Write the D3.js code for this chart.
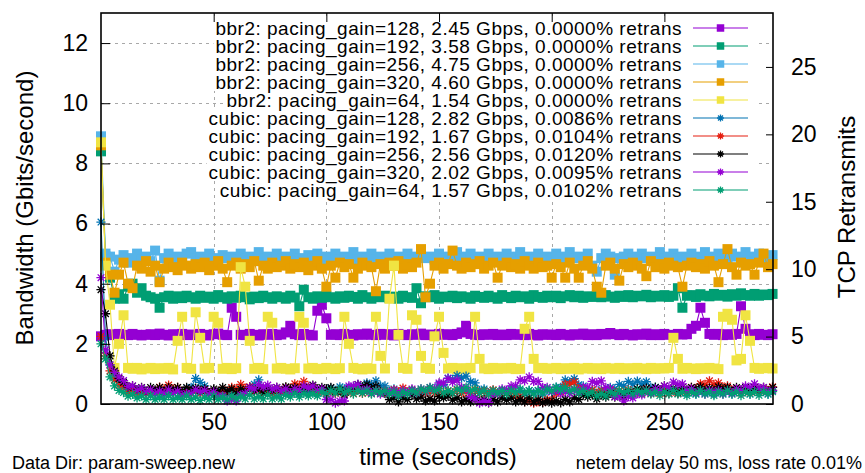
<!DOCTYPE html>
<html>
<head>
<meta charset="utf-8">
<script src="https://cdn.jsdelivr.net/npm/d3@7"></script>
<style>
  html, body { margin: 0; padding: 0; background: #fff; }
  svg { display: block; font-family: "Liberation Sans", Arial, Helvetica, sans-serif; }
</style>
</head>
<body>
<svg id="chart" width="865" height="473"></svg>
<script>
// Sample times (seconds), one sample every 2 s
const seconds = d3.range(0, 300, 2);

// Throughput samples in Gbit/s, one per entry of `seconds`
const bbr2_128 = [
  2.25, 2.3, 2.32, 2.29, 2.33, 2.3, 2.29, 2.33, 2.3, 2.28,
  2.3, 2.32, 2.29, 2.34, 2.3, 2.28, 2.32, 2.3, 2.33, 2.29,
  2.31, 2.29, 2.33, 2.3, 2.28, 2.32, 2.34, 2.3, 2.29, 3.2,
  2.9, 2.3, 2.29, 2.33, 2.3, 2.28, 2.32, 2.3, 2.33, 2.29,
  2.31, 2.38, 2.6, 2.32, 2.29, 2.33, 2.3, 2.28, 3.1, 3.3,
  2.85, 2.3, 2.32, 2.29, 2.33, 2.3, 2.28, 2.32, 2.3, 2.34,
  2.3, 2.29, 2.33, 2.3, 2.32, 2.28, 2.33, 2.3, 2.29, 2.32,
  2.3, 2.34, 2.29, 2.31, 2.28, 2.33, 2.3, 2.32, 2.29, 2.33,
  2.38, 2.6, 2.33, 2.3, 2.29, 2.32, 2.3, 2.33, 2.29, 2.31,
  2.29, 2.33, 2.3, 2.32, 2.29, 2.33, 2.3, 2.28, 2.32, 2.3,
  2.31, 2.29, 2.33, 2.3, 2.28, 2.32, 2.3, 2.34, 2.29, 2.32,
  2.29, 2.33, 2.31, 2.36, 2.32, 2.29, 2.33, 2.3, 2.28, 2.32,
  2.3, 2.34, 2.29, 2.32, 2.29, 2.33, 2.3, 2.29, 2.33, 2.31,
  2.32, 2.5, 2.6, 3.2, 2.7, 2.33, 2.3, 2.33, 2.29, 2.32,
  2.3, 2.33, 3.25, 2.5, 2.32, 2.29, 2.33, 2.3, 2.29, 2.32
];
const bbr2_192 = [
  8.4, 4.9, 4.2, 3.5, 3.65, 3.5, 3.9, 4.0, 3.7, 3.85,
  3.6, 3.55, 3.5, 3.2, 3.55, 3.6, 3.5, 3.58, 3.52, 3.6,
  3.55, 3.5, 3.6, 3.53, 3.57, 3.5, 3.62, 3.55, 3.5, 3.58,
  3.53, 3.6, 3.55, 3.48, 3.57, 3.52, 3.6, 3.55, 3.5, 3.58,
  3.55, 3.5, 3.6, 3.54, 3.25, 3.8, 3.55, 3.5, 3.58, 3.53,
  3.6, 3.55, 3.5, 3.58, 3.53, 3.6, 3.56, 3.5, 3.62, 3.55,
  3.5, 3.58, 3.55, 3.6, 3.52, 3.57, 3.5, 3.6, 3.55, 3.53,
  3.85, 3.35, 3.58, 3.55, 3.62, 3.5, 3.57, 3.55, 3.6, 3.52,
  3.58, 3.55, 3.5, 3.6, 3.56, 3.53, 3.6, 3.55, 3.5, 3.62,
  3.56, 3.52, 3.6, 3.55, 3.58, 3.5, 3.62, 3.56, 3.53, 3.6,
  3.55, 3.6, 3.52, 3.58, 3.62, 3.55, 3.6, 3.53, 3.58, 3.56,
  3.6, 3.55, 3.62, 3.57, 3.53, 3.6, 3.56, 3.62, 3.55, 3.6,
  3.58, 3.63, 3.55, 3.6, 3.57, 3.62, 3.56, 3.6, 3.85, 3.2,
  3.6, 3.62, 3.56, 3.65, 3.6, 3.58, 3.66, 3.6, 3.63, 3.57,
  3.65, 3.6, 3.68, 3.62, 3.6, 3.66, 3.6, 3.64, 3.62, 3.66
];
const bbr2_256 = [
  8.9, 5.0, 4.9, 4.4, 4.8, 4.95, 4.7, 4.85, 5.0, 4.8,
  4.9, 4.75, 5.1, 4.1, 4.85, 5.0, 4.8, 4.9, 4.75, 5.0,
  5.05, 4.85, 4.9, 4.8, 5.0, 4.85, 4.75, 4.95, 4.85, 4.9,
  4.8, 5.0, 4.85, 4.9, 4.75, 5.05, 4.85, 4.9, 4.8, 5.0,
  4.85, 4.9, 4.8, 5.0, 4.85, 4.75, 4.95, 4.85, 5.0, 4.8,
  4.9, 4.85, 5.0, 4.8, 4.9, 4.85, 5.05, 4.8, 4.9, 4.85,
  5.0, 4.8, 4.9, 4.85, 5.0, 4.75, 4.9, 4.85, 5.0, 4.8,
  4.9, 5.05, 4.85, 4.9, 4.8, 5.0, 4.85, 4.9, 4.85, 5.05,
  4.85, 4.9, 5.0, 4.8, 4.9, 4.85, 5.0, 4.85, 4.9, 4.8,
  5.0, 4.85, 4.9, 5.05, 4.85, 4.9, 4.8, 5.0, 4.85, 4.9,
  4.85, 5.0, 4.9, 4.8, 5.05, 4.85, 4.9, 4.85, 5.0, 4.6,
  4.4, 4.85, 5.0, 4.9, 4.3, 4.85, 4.9, 5.0, 4.85, 4.9,
  5.0, 4.85, 4.9, 4.8, 5.05, 4.85, 4.9, 5.0, 4.85, 4.9,
  4.85, 5.0, 4.9, 4.85, 5.05, 4.9, 4.85, 5.0, 4.9, 4.85,
  5.0, 4.9, 4.85, 5.05, 4.9, 4.85, 5.0, 4.9, 4.85, 4.95
];
const bbr2_320 = [
  8.6, 4.7, 4.3, 3.7, 4.3, 4.7, 4.0, 3.85, 4.6, 4.5,
  4.75, 4.4, 4.6, 4.05, 4.5, 4.7, 4.55, 4.45, 4.7, 4.6,
  4.5, 4.65, 4.55, 4.7, 4.45, 4.6, 4.75, 4.5, 4.05, 4.6,
  4.7, 4.5, 4.65, 4.55, 4.75, 4.1, 4.6, 4.5, 4.7, 4.55,
  4.6, 4.75, 4.5, 4.65, 4.55, 4.7, 4.45, 4.6, 4.75, 4.5,
  3.9, 4.6, 4.2, 4.7, 4.55, 4.65, 4.2, 4.5, 4.7, 4.6,
  4.55, 3.75, 4.65, 4.5, 4.7, 4.6, 4.75, 4.5, 4.65, 4.55,
  4.7, 5.15, 3.55, 4.0, 4.6, 4.7, 4.5, 4.65, 5.1, 4.6,
  4.5, 4.7, 4.55, 4.65, 4.75, 4.5, 4.6, 4.7, 4.2, 4.6,
  4.7, 4.55, 4.65, 4.5, 4.75, 4.6, 4.5, 4.7, 4.55, 4.6,
  4.2, 4.65, 4.55, 4.2, 4.7, 4.5, 4.2, 4.6, 4.75, 4.5,
  3.9, 3.7, 4.6, 4.7, 4.5, 4.1, 4.65, 4.55, 4.7, 4.6,
  4.5, 4.25, 4.75, 4.55, 4.65, 4.5, 4.7, 4.6, 4.55, 3.9,
  4.6, 4.7, 4.55, 4.65, 4.5, 4.75, 4.6, 4.05, 4.65, 5.15,
  4.55, 4.3, 4.7, 4.6, 4.65, 4.3, 4.7, 5.0, 4.55, 4.65
];
const bbr2_64 = [
  8.7, 4.6, 3.3, 1.2, 2.0, 2.95, 1.2, 1.17, 1.2, 1.15,
  1.18, 1.2, 1.16, 1.19, 1.17, 1.2, 1.15, 2.1, 2.9, 1.2,
  1.17, 3.05, 2.2, 1.18, 1.2, 2.9, 2.7, 1.17, 1.2, 1.16,
  1.19, 4.55, 3.9, 2.1, 1.17, 1.2, 1.16, 2.9, 2.7, 1.18,
  1.2, 1.17, 1.15, 1.19, 2.9, 2.7, 1.18, 1.2, 1.16, 1.17,
  1.2, 1.18, 1.16, 1.19, 2.9, 2.0, 1.2, 1.17, 1.15, 1.19,
  1.17, 2.9, 1.6, 1.18, 3.5, 4.6, 2.3, 1.2, 1.17, 2.95,
  2.8, 1.6, 1.2, 1.17, 2.25, 2.9, 1.7, 1.18, 1.2, 1.16,
  1.19, 1.17, 1.2, 2.9, 1.5, 1.18, 1.16, 1.2, 1.17, 1.19,
  1.18, 1.2, 1.16, 1.17, 2.5, 2.9, 1.5, 1.19, 1.2, 1.17,
  1.18, 1.2, 1.16, 1.19, 1.17, 1.2, 1.15, 1.18, 1.2, 1.17,
  1.19, 1.16, 1.2, 1.18, 1.17, 1.2, 1.16, 1.19, 1.17, 1.2,
  1.18, 1.16, 1.2, 1.17, 1.19, 1.18, 1.2, 2.2, 1.5, 1.17,
  1.2, 1.18, 1.16, 1.19, 1.17, 1.2, 1.18, 1.16, 2.9, 3.0,
  2.8, 1.45, 1.5, 2.95, 2.1, 1.2, 1.17, 1.19, 1.2, 1.18
];
const cubic_128 = [
  6.05, 2.2, 1.3, 0.95, 0.75, 0.62, 0.48, 0.52, 0.4, 0.47,
  0.36, 0.46, 0.33, 0.44, 0.32, 0.45, 0.38, 0.43, 0.35, 0.5,
  0.55, 0.85, 0.72, 0.6, 0.37, 0.44, 0.35, 0.42, 0.34, 0.43,
  0.36, 0.47, 0.34, 0.56, 0.66, 0.8, 0.5, 0.47, 0.35, 0.43,
  0.35, 0.42, 0.37, 0.45, 0.33, 0.45, 0.37, 0.43, 0.35, 0.47,
  0.4, 0.53, 0.45, 0.57, 0.5, 0.55, 0.43, 0.6, 0.55, 0.7,
  0.65, 0.77, 0.6, 0.6, 0.43, 0.5, 0.37, 0.45, 0.37, 0.45,
  0.33, 0.45, 0.37, 0.5, 0.45, 0.66, 0.64, 0.86, 0.82, 0.95,
  0.86, 0.93, 0.74, 0.7, 0.45, 0.5, 0.37, 0.45, 0.33, 0.45,
  0.37, 0.5, 0.37, 0.45, 0.33, 0.45, 0.37, 0.45, 0.33, 0.47,
  0.4, 0.56, 0.55, 0.8, 0.74, 0.84, 0.64, 0.6, 0.4, 0.47,
  0.35, 0.47, 0.4, 0.55, 0.5, 0.65, 0.6, 0.75, 0.66, 0.76,
  0.66, 0.74, 0.55, 0.56, 0.4, 0.47, 0.35, 0.47, 0.35, 0.43,
  0.35, 0.47, 0.33, 0.45, 0.37, 0.45, 0.33, 0.45, 0.37, 0.45,
  0.33, 0.45, 0.37, 0.45, 0.33, 0.45, 0.37, 0.45, 0.33, 0.45
];
const cubic_192 = [
  2.25, 1.6, 1.1, 0.8, 0.62, 0.54, 0.4, 0.47, 0.35, 0.43,
  0.35, 0.47, 0.4, 0.56, 0.5, 0.63, 0.5, 0.55, 0.4, 0.47,
  0.35, 0.43, 0.35, 0.47, 0.35, 0.43, 0.35, 0.47, 0.4, 0.55,
  0.5, 0.65, 0.53, 0.57, 0.4, 0.47, 0.35, 0.43, 0.35, 0.47,
  0.4, 0.55, 0.5, 0.67, 0.62, 0.75, 0.57, 0.55, 0.4, 0.47,
  0.35, 0.43, 0.35, 0.47, 0.35, 0.43, 0.35, 0.47, 0.35, 0.43,
  0.35, 0.47, 0.35, 0.43, 0.35, 0.47, 0.4, 0.53, 0.4, 0.47,
  0.35, 0.43, 0.35, 0.47, 0.35, 0.43, 0.3, 0.43, 0.35, 0.47,
  0.35, 0.43, 0.35, 0.47, 0.35, 0.43, 0.35, 0.47, 0.35, 0.43,
  0.35, 0.4, 0.25, 0.25, 0.08, 0.12, 0.03, 0.08, 0.05, 0.14,
  0.12, 0.35, 0.4, 0.65, 0.65, 0.73, 0.5, 0.5, 0.35, 0.47,
  0.35, 0.43, 0.35, 0.47, 0.35, 0.43, 0.35, 0.47, 0.35, 0.43,
  0.35, 0.47, 0.35, 0.43, 0.35, 0.47, 0.35, 0.43, 0.35, 0.47,
  0.4, 0.55, 0.5, 0.67, 0.65, 0.77, 0.65, 0.7, 0.55, 0.6,
  0.45, 0.5, 0.37, 0.45, 0.4, 0.55, 0.43, 0.5, 0.45, 0.57
];
const cubic_256 = [
  3.8, 3.0, 1.6, 1.1, 0.85, 0.72, 0.56, 0.6, 0.47, 0.55,
  0.43, 0.55, 0.47, 0.55, 0.43, 0.55, 0.47, 0.55, 0.43, 0.55,
  0.45, 0.53, 0.45, 0.5, 0.37, 0.5, 0.43, 0.55, 0.43, 0.5,
  0.37, 0.5, 0.43, 0.55, 0.43, 0.5, 0.37, 0.5, 0.43, 0.55,
  0.45, 0.57, 0.5, 0.55, 0.43, 0.55, 0.5, 0.63, 0.5, 0.55,
  0.5, 0.55, 0.4, 0.45, 0.3, 0.5, 0.5, 0.65, 0.57, 0.65,
  0.53, 0.6, 0.4, 0.35, 0.15, 0.2, 0.07, 0.2, 0.15, 0.3,
  0.17, 0.23, 0.1, 0.17, 0.1, 0.25, 0.2, 0.27, 0.13, 0.2,
  0.07, 0.15, 0.07, 0.2, 0.07, 0.15, 0.04, 0.15, 0.07, 0.2,
  0.13, 0.2, 0.07, 0.15, 0.07, 0.2, 0.07, 0.15, 0.04, 0.1,
  0.03, 0.1, 0.04, 0.15, 0.07, 0.2, 0.15, 0.3, 0.23, 0.3,
  0.17, 0.3, 0.23, 0.35, 0.23, 0.3, 0.25, 0.4, 0.35, 0.5,
  0.45, 0.53, 0.4, 0.55, 0.47, 0.6, 0.45, 0.53, 0.4, 0.55,
  0.47, 0.55, 0.5, 0.57, 0.45, 0.53, 0.45, 0.57, 0.5, 0.55,
  0.43, 0.55, 0.47, 0.55, 0.43, 0.55, 0.47, 0.55, 0.43, 0.55
];
const cubic_320 = [
  4.2, 1.8, 1.3, 1.05, 0.9, 0.78, 0.58, 0.6, 0.45, 0.53,
  0.4, 0.47, 0.35, 0.43, 0.35, 0.47, 0.35, 0.43, 0.3, 0.35,
  0.35, 0.47, 0.4, 0.45, 0.33, 0.4, 0.25, 0.27, 0.1, 0.17,
  0.1, 0.3, 0.35, 0.55, 0.5, 0.65, 0.57, 0.63, 0.5, 0.55,
  0.43, 0.5, 0.37, 0.5, 0.45, 0.6, 0.53, 0.6, 0.45, 0.5,
  0.15, 0.15, 0.03, 0.1, 0.1, 0.6, 0.6, 0.65, 0.45, 0.5,
  0.37, 0.45, 0.33, 0.45, 0.37, 0.45, 0.33, 0.45, 0.37, 0.5,
  0.37, 0.5, 0.43, 0.55, 0.5, 0.7, 0.7, 0.85, 0.73, 0.8,
  0.55, 0.5, 0.25, 0.17, 0.03, 0.1, 0.05, 0.35, 0.35, 0.5,
  0.45, 0.6, 0.6, 0.8, 0.77, 0.9, 0.75, 0.75, 0.55, 0.55,
  0.4, 0.47, 0.35, 0.43, 0.35, 0.47, 0.4, 0.55, 0.55, 0.75,
  0.7, 0.77, 0.55, 0.5, 0.25, 0.25, 0.1, 0.25, 0.2, 0.35,
  0.3, 0.45, 0.37, 0.5, 0.45, 0.6, 0.55, 0.73, 0.65, 0.67,
  0.45, 0.5, 0.37, 0.45, 0.33, 0.45, 0.37, 0.45, 0.33, 0.45,
  0.37, 0.5, 0.45, 0.6, 0.55, 0.67, 0.53, 0.55, 0.4, 0.45
];
const cubic_64 = [
  2.0, 1.5, 0.9, 0.6, 0.45, 0.38, 0.26, 0.32, 0.2, 0.27,
  0.15, 0.27, 0.15, 0.23, 0.15, 0.27, 0.15, 0.23, 0.15, 0.27,
  0.15, 0.23, 0.12, 0.23, 0.15, 0.27, 0.15, 0.23, 0.15, 0.27,
  0.17, 0.25, 0.17, 0.3, 0.17, 0.25, 0.17, 0.3, 0.17, 0.25,
  0.17, 0.3, 0.23, 0.35, 0.23, 0.35, 0.27, 0.35, 0.27, 0.4,
  0.33, 0.45, 0.37, 0.5, 0.37, 0.45, 0.33, 0.45, 0.37, 0.45,
  0.33, 0.45, 0.37, 0.45, 0.33, 0.4, 0.28, 0.4, 0.33, 0.45,
  0.37, 0.5, 0.43, 0.55, 0.43, 0.5, 0.37, 0.45, 0.37, 0.5,
  0.43, 0.55, 0.43, 0.5, 0.37, 0.45, 0.33, 0.45, 0.37, 0.45,
  0.33, 0.45, 0.37, 0.5, 0.37, 0.45, 0.33, 0.45, 0.37, 0.5,
  0.43, 0.55, 0.47, 0.55, 0.43, 0.5, 0.37, 0.45, 0.33, 0.4,
  0.27, 0.35, 0.27, 0.4, 0.33, 0.45, 0.37, 0.45, 0.33, 0.45,
  0.37, 0.45, 0.33, 0.4, 0.28, 0.4, 0.33, 0.45, 0.33, 0.4,
  0.28, 0.4, 0.33, 0.45, 0.33, 0.4, 0.28, 0.4, 0.33, 0.45,
  0.33, 0.4, 0.28, 0.4, 0.33, 0.41, 0.29, 0.41, 0.33, 0.41
];

// Legend entries, colours and marker shapes, in plotting order
const seriesLabels = [
  "bbr2: pacing_gain=128, 2.45 Gbps, 0.0000% retrans",
  "bbr2: pacing_gain=192, 3.58 Gbps, 0.0000% retrans",
  "bbr2: pacing_gain=256, 4.75 Gbps, 0.0000% retrans",
  "bbr2: pacing_gain=320, 4.60 Gbps, 0.0000% retrans",
  "bbr2: pacing_gain=64, 1.54 Gbps, 0.0000% retrans",
  "cubic: pacing_gain=128, 2.82 Gbps, 0.0086% retrans",
  "cubic: pacing_gain=192, 1.67 Gbps, 0.0104% retrans",
  "cubic: pacing_gain=256, 2.56 Gbps, 0.0120% retrans",
  "cubic: pacing_gain=320, 2.02 Gbps, 0.0095% retrans",
  "cubic: pacing_gain=64, 1.57 Gbps, 0.0102% retrans"
];
const seriesValues = [bbr2_128, bbr2_192, bbr2_256, bbr2_320, bbr2_64,
                      cubic_128, cubic_192, cubic_256, cubic_320, cubic_64];
const seriesColors = ["#9400d3", "#009e73", "#56b4e9", "#e69f00", "#f0e442",
                      "#0072b2", "#e51e10", "#000000", "#9400d3", "#009e73"];
const seriesMarkers = ["square", "square", "square", "square", "square",
                       "star", "star", "star", "star", "star"];

// Axis ticks
const xTicks = [50, 100, 150, 200, 250];
const yTicks = [0, 2, 4, 6, 8, 10, 12];
const y2Ticks = [0, 5, 10, 15, 20, 25];

const xLabel = "time (seconds)";
const yLabel = "Bandwidth (Gbits/second)";
const y2Label = "TCP Retransmits";
const footLeft = "Data Dir: param-sweep.new";
const footRight = "netem delay 50 ms, loss rate 0.01%";

// ---- layout ----
const W = 865, H = 473;
const plot = { left: 101, right: 773, top: 13, bottom: 404 };

const svg = d3.select("#chart");
svg.append("rect").attr("width", W).attr("height", H).attr("fill", "#fff");

const x = d3.scaleLinear().domain([0, 298.2]).range([plot.left, plot.right]);
const y = d3.scaleLinear().domain([0, 13]).range([plot.bottom, plot.top]);
const y2 = d3.scaleLinear().domain([0, 29]).range([plot.bottom, plot.top]);

const tickFont = 23;
const titleFont = 24;
const gridColor = "#a8a8a8";

// ---- grid ----
const grid = svg.append("g").attr("stroke", gridColor).attr("stroke-width", 1)
  .attr("stroke-dasharray", "3,4");
grid.selectAll("line.gx").data(xTicks).join("line").attr("class", "gx")
  .attr("x1", d => Math.round(x(d)) + 0.5).attr("x2", d => Math.round(x(d)) + 0.5)
  .attr("y1", plot.top).attr("y2", plot.bottom);
grid.selectAll("line.gy").data(yTicks.filter(d => d > 0)).join("line").attr("class", "gy")
  .attr("y1", d => Math.round(y(d)) + 0.5).attr("y2", d => Math.round(y(d)) + 0.5)
  .attr("x1", plot.left).attr("x2", plot.right);

// ---- legend backgrounds (opaque, drawn over the grid) ----
const legend = svg.append("g");
const legendRowY = i => 28 + 18 * i;
const legendTextX = 682;
const sampleX1 = 693, sampleX2 = 748;
const legendFont = 19;

const legendBg = legend.append("g");
const legendText = legend.append("g")
  .attr("font-size", legendFont).attr("letter-spacing", "0.5px")
  .attr("text-anchor", "end").attr("fill", "#000");
seriesLabels.forEach((lab, i) => {
  legendText.append("text")
    .attr("x", legendTextX).attr("y", legendRowY(i))
    .attr("dy", "0.35em").text(lab);
});
legendText.selectAll("text").each(function (d, i) {
  const bb = this.getBBox();
  legendBg.append("rect")
    .attr("x", bb.x - 2).attr("y", legendRowY(i) - 9)
    .attr("width", (sampleX2 + 8) - (bb.x - 2)).attr("height", 18)
    .attr("fill", "#fff");
});

// ---- marker shapes ----
function markerPath(kind, scale) {
  if (kind === "square") return d3.symbol(d3.symbolSquare, 100 * scale * scale)();
  const r = 4.6 * scale, a = r * 0.72, p = d3.path();
  p.moveTo(-r, 0); p.lineTo(r, 0);
  p.moveTo(0, -r); p.lineTo(0, r);
  p.moveTo(-a, -a); p.lineTo(a, a);
  p.moveTo(-a, a); p.lineTo(a, -a);
  return p.toString();
}

// ---- series ----
const dataLayer = svg.append("g");
const line = d3.line().x(d => x(d[0])).y(d => y(d[1]));
seriesValues.forEach((vals, i) => {
  const pts = seconds.map((t, k) => [t, vals[k]]);
  const color = seriesColors[i];
  const g = dataLayer.append("g");
  g.append("path").attr("d", line(pts)).attr("fill", "none")
    .attr("stroke", color).attr("stroke-width", 1.1);
  const shape = markerPath(seriesMarkers[i], 1);
  const isSquare = seriesMarkers[i] === "square";
  g.selectAll("path.m").data(pts).join("path").attr("class", "m")
    .attr("transform", d => `translate(${x(d[0])},${y(d[1])})`)
    .attr("d", shape)
    .attr("fill", isSquare ? color : "none")
    .attr("stroke", color).attr("stroke-width", isSquare ? 0 : 1.3);
});

// legend samples
seriesValues.forEach((vals, i) => {
  const color = seriesColors[i];
  const cy = legendRowY(i);
  legend.append("line").attr("x1", sampleX1).attr("x2", sampleX2)
    .attr("y1", cy).attr("y2", cy).attr("stroke", color).attr("stroke-width", 1.1);
  const isSquare = seriesMarkers[i] === "square";
  legend.append("path").attr("d", markerPath(seriesMarkers[i], 0.75))
    .attr("transform", `translate(${(sampleX1 + sampleX2) / 2},${cy})`)
    .attr("fill", isSquare ? color : "none")
    .attr("stroke", color).attr("stroke-width", isSquare ? 0 : 1.3);
});

// ---- axes ----
function styleAxis(g) {
  g.select(".domain").remove();
  g.selectAll(".tick line").attr("stroke", "#000").attr("stroke-width", 1);
  g.selectAll(".tick text").attr("fill", "#000");
  g.attr("font-size", tickFont).attr("font-family", null);
}
svg.append("g").attr("transform", `translate(${plot.left},0)`)
  .call(d3.axisLeft(y).tickValues(yTicks).tickSize(-9).tickPadding(13).tickFormat(d3.format("d")))
  .call(styleAxis);
svg.append("g").attr("transform", `translate(0,${plot.bottom})`)
  .call(d3.axisBottom(x).tickValues(xTicks).tickSize(-9).tickPadding(10).tickFormat(d3.format("d")))
  .call(styleAxis);
svg.append("g").attr("transform", `translate(0,${plot.top})`)
  .call(d3.axisTop(x).tickValues(xTicks).tickSize(-9).tickFormat(""))
  .call(styleAxis);
svg.append("g").attr("transform", `translate(${plot.right},0)`)
  .call(d3.axisRight(y2).tickValues(y2Ticks).tickSize(-7).tickPadding(18).tickFormat(d3.format("d")))
  .call(styleAxis);

// frame
svg.append("rect")
  .attr("x", plot.left).attr("y", plot.top)
  .attr("width", plot.right - plot.left).attr("height", plot.bottom - plot.top)
  .attr("fill", "none").attr("stroke", "#000").attr("stroke-width", 1.6);

// ---- titles ----
svg.append("text").attr("x", 438).attr("y", 457).attr("dy", "0.35em")
  .attr("text-anchor", "middle").attr("font-size", titleFont).text(xLabel);
svg.append("text").attr("transform", "translate(25,208) rotate(-90)").attr("dy", "0.35em")
  .attr("text-anchor", "middle").attr("font-size", titleFont).text(yLabel);
svg.append("text").attr("transform", "translate(847,207) rotate(-90)").attr("dy", "0.35em")
  .attr("text-anchor", "middle").attr("font-size", titleFont).text(y2Label);
svg.append("text").attr("x", 12).attr("y", 469)
  .attr("font-size", 18).text(footLeft);
svg.append("text").attr("x", 862).attr("y", 469)
  .attr("text-anchor", "end").attr("font-size", 18).text(footRight);
</script>
</body>
</html>
